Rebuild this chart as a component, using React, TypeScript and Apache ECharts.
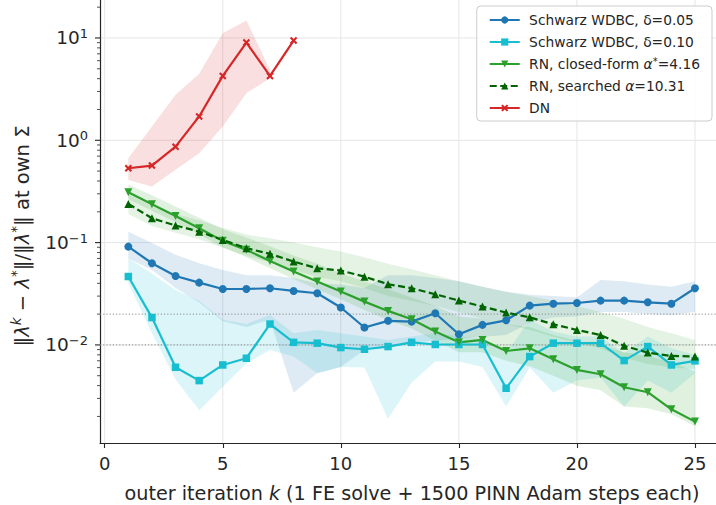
import React, { useEffect, useRef } from "react";
import * as echarts from "echarts";

// ---- data -------------------------------------------------------------
const iterations = [1, 2, 3, 4, 5, 6, 7, 8, 9, 10, 11, 12, 13, 14, 15, 16, 17, 18, 19, 20, 21, 22, 23, 24, 25];
const dnIterations = [1, 2, 3, 4, 5, 6, 7, 8];
const dnBandIterations = [1, 2, 3, 4, 5, 6, 7];

const wdbc005 = [0.0914, 0.0628, 0.0472, 0.0406, 0.0352, 0.0352, 0.0358, 0.0337, 0.032, 0.0232, 0.0148, 0.0172, 0.0169, 0.0204, 0.0127, 0.0157, 0.0174, 0.0242, 0.0253, 0.0257, 0.0271, 0.0271, 0.0261, 0.0253, 0.0358];
const wdbc005Lo = [0.07, 0.054, 0.036, 0.026, 0.017, 0.015, 0.0176, 0.0034, 0.0053, 0.0061, 0.0089, 0.0095, 0.0105, 0.011, 0.0115, 0.012, 0.0125, 0.0165, 0.0185, 0.019, 0.021, 0.021, 0.02, 0.0195, 0.021];
const wdbc005Hi = [0.128, 0.099, 0.076, 0.063, 0.054, 0.048, 0.048, 0.045, 0.04, 0.039, 0.036, 0.048, 0.048, 0.045, 0.042, 0.037, 0.033, 0.031, 0.03, 0.029, 0.043, 0.042, 0.039, 0.037, 0.042];

const wdbc010 = [0.0466, 0.0185, 0.00605, 0.00448, 0.00637, 0.00741, 0.016, 0.0106, 0.0104, 0.00942, 0.00907, 0.00963, 0.0106, 0.0101, 0.0101, 0.0101, 0.00377, 0.00769, 0.0104, 0.0104, 0.0104, 0.00703, 0.00963, 0.00637, 0.00698];
const wdbc010Lo = [0.04, 0.013, 0.0046, 0.0023, 0.0039, 0.0066, 0.0089, 0.0077, 0.0053, 0.0061, 0.006, 0.0019, 0.0043, 0.0069, 0.0069, 0.0061, 0.0025, 0.006, 0.0034, 0.0045, 0.0048, 0.0025, 0.0045, 0.0034, 0.0053];
const wdbc010Hi = [0.07, 0.05, 0.0345, 0.0268, 0.0176, 0.016, 0.0196, 0.013, 0.014, 0.013, 0.0121, 0.0112, 0.0121, 0.013, 0.0121, 0.0116, 0.0083, 0.0176, 0.0135, 0.0121, 0.0121, 0.0083, 0.0121, 0.0093, 0.008];

const rnClosed = [0.31, 0.237, 0.182, 0.138, 0.104, 0.0849, 0.0662, 0.0521, 0.0416, 0.0332, 0.0265, 0.0215, 0.0178, 0.0135, 0.0106, 0.0112, 0.00873, 0.00927, 0.00724, 0.0057, 0.00517, 0.00386, 0.00345, 0.00235, 0.00178];
const rnClosedLo = [0.265, 0.205, 0.158, 0.12, 0.09, 0.072, 0.056, 0.044, 0.035, 0.028, 0.022, 0.0175, 0.0145, 0.011, 0.0085, 0.0085, 0.007, 0.0062, 0.005, 0.004, 0.0036, 0.0025, 0.0024, 0.0021, 0.0016];
const rnClosedHi = [0.37, 0.29, 0.225, 0.175, 0.135, 0.112, 0.092, 0.075, 0.062, 0.05, 0.042, 0.035, 0.029, 0.024, 0.019, 0.018, 0.016, 0.015, 0.0125, 0.011, 0.01, 0.0085, 0.0078, 0.0068, 0.0055];

const rnSearched = [0.239, 0.173, 0.147, 0.128, 0.106, 0.0881, 0.0776, 0.0652, 0.0561, 0.0533, 0.0465, 0.0392, 0.0358, 0.0313, 0.0271, 0.0237, 0.0207, 0.0186, 0.0159, 0.014, 0.0125, 0.0098, 0.00841, 0.0078, 0.00771];
const rnSearchedLo = [0.19, 0.145, 0.125, 0.108, 0.089, 0.074, 0.064, 0.054, 0.046, 0.042, 0.036, 0.03, 0.027, 0.024, 0.021, 0.018, 0.016, 0.014, 0.012, 0.0105, 0.0092, 0.0075, 0.0065, 0.006, 0.0058];
const rnSearchedHi = [0.3, 0.225, 0.19, 0.165, 0.14, 0.12, 0.11, 0.1, 0.09, 0.082, 0.072, 0.062, 0.055, 0.048, 0.042, 0.037, 0.033, 0.03, 0.027, 0.024, 0.021, 0.018, 0.015, 0.013, 0.0112];

const dn = [0.533, 0.566, 0.867, 1.71, 4.26, 9.02, 4.26, 9.43];
const dnLo = [0.41, 0.353, 0.514, 0.748, 1.36, 2.88, 4.05];
const dnHi = [0.668, 1.36, 2.78, 4.46, 11.1, 14.8, 4.88];

const xTicks = [0, 5, 10, 15, 20, 25];
const yDecades = [0.001, 0.01, 0.1, 1, 10];
const yMajorTicks = [0.01, 0.1, 1, 10];
const minorMultipliers = [2, 3, 4, 5, 6, 7, 8, 9];
const referenceLevels = [0.02, 0.01];

// ---- axis extents & styling -------------------------------------------
const X_MIN = -0.2;
const X_MAX = 25.89;
const Y_MIN = 1.1e-3;
const Y_MAX = 23.5;

const FONT = '"DejaVu Sans", "Liberation Sans", sans-serif';
const INK = "#262626";
const GRID = "#e6e6e6";

const C_BLUE = "#1f77b4";
const C_CYAN = "#17becf";
const C_GREEN = "#2ca02c";
const C_DKGREEN = "#006400";
const C_RED = "#d62728";

const X_MARK = "path://M2,0 L5,3 L8,0 L10,2 L7,5 L10,8 L8,10 L5,7 L2,10 L0,8 L3,5 L0,2 Z";

const NAME_005 = "Schwarz WDBC, δ=0.05";
const NAME_010 = "Schwarz WDBC, δ=0.10";
const NAME_RNC = "RN, closed-form α*=4.16";
const NAME_RNS = "RN, searched α=10.31";
const NAME_DN = "DN";

const legendLabels: Record<string, string> = {
  [NAME_005]: " Schwarz WDBC, δ=0.05",
  [NAME_010]: " Schwarz WDBC, δ=0.10",
  [NAME_RNC]: " RN, closed-form {it|α}{sup|*}=4.16",
  [NAME_RNS]: " RN, searched {it|α}=10.31",
  [NAME_DN]: " DN",
};

function pairs(xs: number[], ys: number[]) {
  return xs.map((x, i) => [x, ys[i]]);
}

// shaded spread band drawn as one polygon through the axis scales
function band(xs: number[], lo: number[], hi: number[], fill: string) {
  return {
    type: "custom",
    z: 1,
    silent: true,
    data: [[xs[0], hi[0]]],
    renderItem: (_p: any, api: any) => {
      const upper = xs.map((x, i) => api.coord([x, hi[i]]));
      const lower = xs.map((x, i) => api.coord([x, lo[i]])).reverse();
      return {
        type: "polygon",
        shape: { points: upper.concat(lower) },
        style: { fill },
      };
    },
  };
}

function lineSeries(name: string, xs: number[], ys: number[], color: string, symbol: string, extra: any = {}) {
  return {
    name,
    type: "line",
    z: 5,
    data: pairs(xs, ys),
    symbol,
    symbolSize: extra.symbolSize || 8,
    showAllSymbol: true,
    lineStyle: { color, width: 2.2, ...(extra.lineStyle || {}) },
    itemStyle: { color },
    emphasis: { disabled: true },
    ...(extra.symbolRotate !== undefined ? { symbolRotate: extra.symbolRotate } : {}),
  };
}

export default function App() {
  const ref = useRef<HTMLDivElement>(null);

  useEffect(() => {
    if (!ref.current) return;
    const chart = echarts.init(ref.current, null, { renderer: "svg" });

    const minorTicks: number[] = [];
    yDecades.forEach((d) =>
      minorMultipliers.forEach((m) => {
        const v = d * m;
        if (v > Y_MIN && v < Y_MAX) minorTicks.push(v);
      })
    );

    // grid lines and y ticks (major + log minor)
    const decor = {
      type: "custom",
      z: 0,
      silent: true,
      data: [[1, 0.1]],
      renderItem: (_p: any, api: any) => {
        const children: any[] = [];
        xTicks.forEach((x) => {
          const a = api.coord([x, Y_MIN]);
          const b = api.coord([x, Y_MAX]);
          children.push({ type: "line", shape: { x1: a[0], y1: a[1], x2: b[0], y2: b[1] }, style: { stroke: GRID, lineWidth: 1 } });
        });
        yMajorTicks.forEach((v) => {
          const a = api.coord([X_MIN, v]);
          const b = api.coord([X_MAX, v]);
          children.push({ type: "line", shape: { x1: a[0], y1: a[1], x2: b[0], y2: b[1] }, style: { stroke: GRID, lineWidth: 1 } });
          children.push({ type: "line", shape: { x1: a[0] - 5, y1: a[1], x2: a[0], y2: a[1] }, style: { stroke: INK, lineWidth: 1.1 } });
        });
        minorTicks.forEach((v) => {
          const a = api.coord([X_MIN, v]);
          children.push({ type: "line", shape: { x1: a[0] - 3, y1: a[1], x2: a[0], y2: a[1] }, style: { stroke: INK, lineWidth: 0.8 } });
        });
        return { type: "group", children };
      },
    };

    // dotted reference levels
    const refs = {
      type: "custom",
      z: 2,
      silent: true,
      data: [[1, 0.01]],
      renderItem: (_p: any, api: any) => ({
        type: "group",
        children: referenceLevels.map((v) => {
          const a = api.coord([X_MIN, v]);
          const b = api.coord([X_MAX, v]);
          return {
            type: "line",
            shape: { x1: a[0], y1: a[1], x2: b[0], y2: b[1] },
            style: { stroke: "#8a8a8a", lineWidth: 1, lineDash: [1.2, 2] },
          };
        }),
      }),
    };

    const option: any = {
      animation: false,
      backgroundColor: "#ffffff",
      textStyle: { fontFamily: FONT },
      grid: { left: 100, right: 0, top: 0, bottom: 62, containLabel: false },
      xAxis: {
        type: "value",
        min: X_MIN,
        max: X_MAX,
        axisLine: { onZero: false, lineStyle: { color: INK, width: 1.2 } },
        axisTick: { customValues: xTicks, length: 5, lineStyle: { color: INK, width: 1.1 } },
        axisLabel: {
          customValues: xTicks,
          fontSize: 18,
          color: INK,
          fontFamily: FONT,
          margin: 11,
          formatter: (v: number) => (xTicks.indexOf(v) >= 0 ? String(v) : ""),
        },
        splitLine: { show: false },
      },
      yAxis: {
        type: "log",
        logBase: 10,
        min: Y_MIN,
        max: Y_MAX,
        axisLine: { show: true, onZero: false, lineStyle: { color: INK, width: 1.2 } },
        axisTick: { show: false },
        splitLine: { show: false },
        minorTick: { show: false },
        axisLabel: {
          margin: 12,
          color: INK,
          fontFamily: FONT,
          fontSize: 18.5,
          lineHeight: 22,
          formatter: (v: number) => {
            const e = Math.log10(v);
            if (Math.abs(e - Math.round(e)) > 1e-6) return "";
            const n = Math.round(e);
            return "10{sup|" + (n < 0 ? "\u2212" + -n : String(n)) + "}";
          },
          rich: {
            sup: { fontSize: 13, lineHeight: 13, verticalAlign: "top", color: INK, fontFamily: FONT },
          },
        },
      },
      legend: {
        orient: "vertical",
        right: 4,
        top: 6,
        selectedMode: false,
        data: [NAME_005, NAME_010, NAME_RNC, NAME_RNS, NAME_DN],
        itemWidth: 30,
        itemHeight: 9,
        itemGap: 6,
        padding: [6, 12, 5, 12],
        backgroundColor: "rgba(255,255,255,0.85)",
        borderColor: "#cccccc",
        borderWidth: 1,
        borderRadius: 4,
        formatter: (name: string) => legendLabels[name] || name,
        textStyle: {
          fontSize: 13.8,
          lineHeight: 16,
          color: INK,
          fontFamily: FONT,
          rich: {
            it: { fontSize: 13.8, fontStyle: "italic", color: INK, fontFamily: FONT },
            sup: { fontSize: 10, lineHeight: 10, verticalAlign: "top", color: INK, fontFamily: FONT },
          },
        },
      },
      graphic: [
        {
          type: "text",
          x: 22,
          y: 236,
          rotation: Math.PI / 2,
          silent: true,
          style: {
            text: "‖{it|λ}{sup|k} − {it|λ}{sup|*}‖/‖{it|λ}{sup|*}‖ at own Σ",
            fontSize: 19.5,
            lineHeight: 27,
            fontFamily: FONT,
            fill: INK,
            align: "center",
            verticalAlign: "middle",
            rich: {
              it: { fontSize: 19.5, fontStyle: "italic", fontFamily: FONT, fill: INK },
              sup: { fontSize: 13.5, lineHeight: 13.5, fontStyle: "italic", verticalAlign: "top", fontFamily: FONT, fill: INK },
            },
          },
        },
        {
          type: "text",
          x: 412,
          y: 493,
          silent: true,
          style: {
            text: "outer iteration {it|k} (1 FE solve + 1500 PINN Adam steps each)",
            fontSize: 19.2,
            fontFamily: FONT,
            fill: INK,
            align: "center",
            verticalAlign: "middle",
            rich: {
              it: { fontSize: 19.2, fontStyle: "italic", fontFamily: FONT, fill: INK },
            },
          },
        },
      ],
      series: [
        decor,
        band(iterations, wdbc005Lo, wdbc005Hi, "rgba(31,119,180,0.15)"),
        band(iterations, wdbc010Lo, wdbc010Hi, "rgba(23,190,207,0.15)"),
        band(iterations, rnClosedLo, rnClosedHi, "rgba(44,160,44,0.15)"),
        band(iterations, rnSearchedLo, rnSearchedHi, "rgba(44,160,44,0.12)"),
        band(dnBandIterations, dnLo, dnHi, "rgba(214,39,40,0.15)"),
        refs,
        lineSeries(NAME_005, iterations, wdbc005, C_BLUE, "circle"),
        lineSeries(NAME_010, iterations, wdbc010, C_CYAN, "rect", { symbolSize: 7.5 }),
        lineSeries(NAME_RNC, iterations, rnClosed, C_GREEN, "triangle", { symbolRotate: 180 }),
        lineSeries(NAME_RNS, iterations, rnSearched, C_DKGREEN, "triangle", { lineStyle: { type: [7, 3.5] } }),
        lineSeries(NAME_DN, dnIterations, dn, C_RED, X_MARK, { symbolSize: 7.5 }),
      ],
    };

    chart.setOption(option);
    return () => chart.dispose();
  }, []);

  return (
    <div
      ref={ref}
      style={{ position: "fixed", left: 0, top: 0, width: 716, height: 505, background: "#fff" }}
    />
  );
}
